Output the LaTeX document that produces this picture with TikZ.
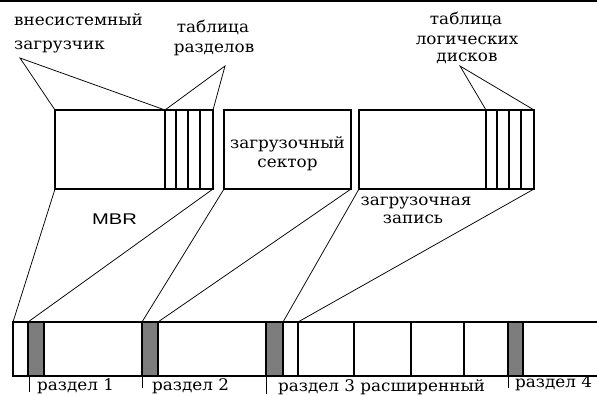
\documentclass[tikz,border=0pt]{standalone}
\usepackage{fontspec}
\newfontfamily\captionfont{DejaVu Serif}
\newfontfamily\latinsans{Liberation Sans}
% captions are set slightly widened
\newcommand\widetext[2][1.05]{\scalebox{#1}[1]{#2}}
\begin{document}
\begin{tikzpicture}[x=1pt,y=-1pt,
  frame/.style={draw, line width=1.3pt, inner sep=0pt, outer sep=0pt},
  sector/.style={frame, fill={rgb,255:red,125;green,125;blue,125},
                 minimum height=54pt},
  edge/.style={line width=1.3pt},
  lead/.style={line width=0.75pt},
  lbl/.style={inner sep=0pt, font=\captionfont\fontsize{16}{20}\selectfont},
]
\useasboundingbox (0,0) rectangle (597,396);

% rule along the top edge
\draw[line width=1.5pt] (0,1) -- (597,1);

% --- structures shown enlarged ---
\node[frame, minimum width=158pt, minimum height=79pt] (mbr)  at (134,149.5) {};
\node[frame, minimum width=127pt, minimum height=79pt] (boot) at (287.5,149.5) {};
\node[frame, minimum width=175pt, minimum height=79pt] (ext)  at (446.5,149.5) {};

% partition table entries
\foreach \x in {165,176,188,200}
  \draw[edge] (\x,110) -- (\x,189);
% logical disk table entries
\foreach \x in {486,497,509,521}
  \draw[edge] (\x,110) -- (\x,189);

\coordinate (pt) at (165,110);
\coordinate (lt) at (486,110);

% --- disk strip ---
\coordinate (d0) at (13,322);
\draw[edge] (597,322) -- (13,322) -- (13,376) -- (597,376);
\node[sector, minimum width=16pt] (s1) at (36,349) {};
\node[sector, minimum width=16pt] (s2) at (150,349) {};
\node[sector, minimum width=17pt] (s3) at (274.5,349) {};
\node[sector, minimum width=15pt] (s4) at (515.5,349) {};
\coordinate (e1) at (298,322);
\foreach \x in {298,354,411,464}
  \draw[edge] (\x,322) -- (\x,376);

% --- projections from the structures to the disk ---
\draw[lead] (mbr.south west) -- (d0);
\draw[lead] (mbr.south east) -- (s1.north west);
\draw[lead] (boot.south west) -- (s2.north west);
\draw[lead] (boot.south east) -- (s2.north east);
\draw[lead] (ext.south west) -- (s3.north east);
\draw[lead] (ext.south east) -- (e1);

% --- callouts ---
\node[lbl, anchor=base west] (t1a) at (14,26) {\widetext{внесистемный}};
\node[lbl, anchor=base west] (t1b) at (14,49) {\widetext{загрузчик}};
\coordinate (a1) at (20,58);
\draw[lead] (mbr.north west) -- (a1) -- (pt);

\node[lbl, anchor=base] (t2a) at (213,33) {\widetext{таблица}};
\node[lbl, anchor=base] (t2b) at (214,53) {\widetext{разделов}};
\coordinate (a2) at (225,66);
\draw[lead] (pt) -- (a2) -- (mbr.north east);

\node[lbl, anchor=base] (t3a) at (466,25) {\widetext{таблица}};
\node[lbl, anchor=base] (t3b) at (467,45) {\widetext{логических}};
\node[lbl, anchor=base] (t3c) at (467,62) {\widetext{дисков}};
\coordinate (a3) at (460,66);
\draw[lead] (lt) -- (a3) -- (ext.north east);

\node[lbl, anchor=base] (t4a) at (287.5,148) {\widetext{загрузочный}};
\node[lbl, anchor=base] (t4b) at (287.5,167) {\widetext{сектор}};

\node[inner sep=0pt, anchor=base, font=\latinsans\fontsize{15.5}{18}\selectfont]
  (t5) at (114.5,224) {\widetext[1.3]{MBR}};

\node[lbl, anchor=base] (t6a) at (416,205) {\widetext{загрузочная}};
\node[lbl, anchor=base] (t6b) at (413,223) {\widetext{запись}};

% --- partition labels ---
\draw[lead] (29,376) -- (29,392);
\draw[lead] (142,376) -- (142,388);
\draw[lead] (266,376) -- (266,394);
\draw[lead] (508,376) -- (508,388);
\node[lbl, anchor=base west] (p1) at (37,390) {\widetext{раздел 1}};
\node[lbl, anchor=base west] (p2) at (152,390) {\widetext{раздел 2}};
\node[lbl, anchor=base west] (p3) at (278,391) {\widetext{раздел 3 расширенный}};
\node[lbl, anchor=base west] (p4) at (515,387) {\widetext{раздел 4}};
\end{tikzpicture}
\end{document}
